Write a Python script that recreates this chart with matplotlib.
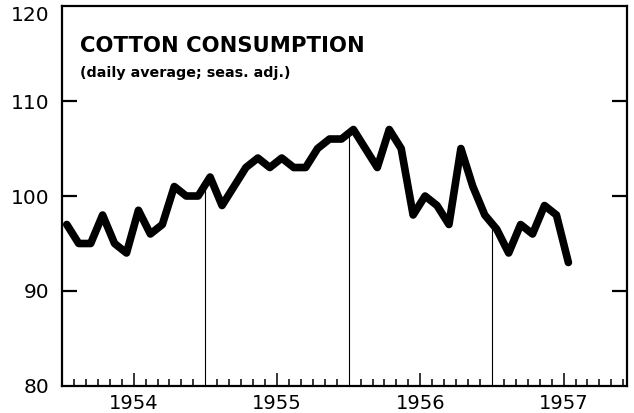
import numpy as np
import matplotlib
matplotlib.use('Agg')
import matplotlib.pyplot as plt

# monthly values, Jan 1954 .. Jul 1957 (daily average, seasonally adjusted)
values_1954 = [97, 95, 95, 98, 95, 94, 98.5, 96, 97, 101, 100, 100]
values_1955 = [102, 99, 101, 103, 104, 103, 104, 103, 103, 105, 106, 106]
values_1956 = [107, 105, 103, 107, 105, 98, 100, 99, 97, 105, 101, 98]
values_1957 = [96.5, 94, 97, 96, 99, 98, 93]

years = ['1954', '1955', '1956', '1957']
y_ticks = [80, 90, 100, 110, 120]

values = values_1954 + values_1955 + values_1956 + values_1957
# x in months since Jan 1954, points drawn a bit into each month
x = np.arange(len(values)) + 0.4

fig = plt.figure(figsize=(6.34, 4.13), dpi=100)
ax = fig.add_axes([0.0978, 0.0654, 0.891, 0.92])

ax.plot(x, values, color='black', lw=5.5, solid_joinstyle='round', solid_capstyle='round', zorder=3)

# thin year separators, from the bottom up to the curve
for b in [12, 24, 36]:
    top = np.interp(b, x, values)
    ax.plot([b, b], [80, top], color='black', lw=0.8, zorder=2)

ax.set_xlim(0, 47.3)
ax.set_ylim(80, 120)

for s in ax.spines.values():
    s.set_linewidth(1.6)

# y ticks on both sides, pointing in
ax.set_yticks(y_ticks)
ax.set_yticklabels([str(v) for v in y_ticks], fontsize=14.5)
ax.tick_params(axis='y', direction='in', length=11, width=1.6, left=True, right=True, pad=9)
lbls = ax.get_yticklabels()
lbls[-1].set_va('top')
# no tick marks at the frame corners
for t in [ax.yaxis.get_major_ticks()[0], ax.yaxis.get_major_ticks()[-1]]:
    t.tick1line.set_visible(False)
    t.tick2line.set_visible(False)

# month ticks along the bottom, longer at mid year
minor = [m for m in range(1, 48) if m % 12 != 0 and m % 12 != 6]
major = [6, 18, 30, 42]
ax.set_xticks(major)
ax.set_xticklabels(years, fontsize=14)
ax.set_xticks(minor, minor=True)
ax.tick_params(axis='x', which='major', direction='in', length=9.5, width=1.1, pad=6)
ax.tick_params(axis='x', which='minor', direction='in', length=5, width=1.1)

ax.text(0.032, 0.895, 'COTTON CONSUMPTION', transform=ax.transAxes,
        fontsize=15.2, fontweight='bold', ha='left', va='center')
ax.text(0.032, 0.825, '(daily average; seas. adj.)', transform=ax.transAxes,
        fontsize=10.3, fontweight='bold', ha='left', va='center')

fig.savefig('out.png', dpi=100)
